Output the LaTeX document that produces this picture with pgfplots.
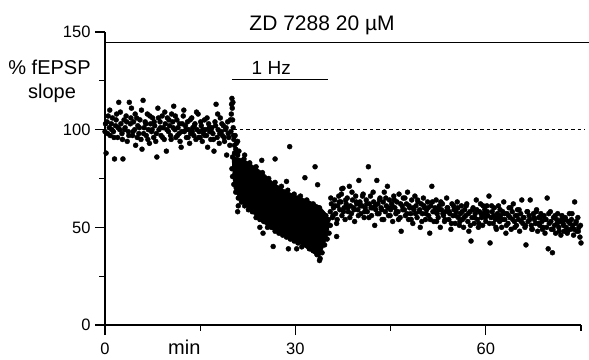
\documentclass[border=0pt]{standalone}
\usepackage{fontspec}
\setmainfont{Liberation Sans}
\usepackage{pgfplots}
\pgfplotsset{compat=1.18}
\usepackage{pgfplotstable}

\pgfplotstableread{
x y
0.0 99
0.17 88
0.33 104
0.5 107
0.67 101
0.83 97
1.0 103
1.17 106
1.33 99
1.5 85
1.67 102
1.83 108
2.0 96
2.17 114
2.33 100
2.5 103
2.67 98
2.83 85
3.0 105
3.17 101
3.33 107
3.5 94
3.67 99
3.83 114
4.0 103
4.17 111
4.33 97
4.5 104
4.67 100
4.83 92
5.0 106
5.17 102
5.33 98
5.5 105
5.67 95
5.83 90
6.0 115
6.17 101
6.33 104
6.5 97
6.67 108
6.83 100
7.0 93
7.17 103
7.33 99
7.5 106
7.67 96
7.83 102
8.0 94
8.17 86
8.33 111
8.5 100
8.67 104
8.83 97
9.0 107
9.17 101
9.33 95
9.5 103
9.67 89
9.83 106
10.0 99
10.17 102
10.33 97
10.5 108
10.67 104
10.83 112
11.0 100
11.17 96
11.33 105
11.5 101
11.67 98
11.83 94
12.0 91
12.17 103
12.33 107
12.5 99
12.67 102
12.83 96
13.0 104
13.17 100
13.33 93
13.5 98
13.67 106
13.83 101
14.0 97
14.17 103
14.33 95
14.5 100
14.67 108
14.83 99
15.0 96
15.17 102
15.33 94
15.5 98
15.67 105
15.83 100
16.0 97
16.17 91
16.33 103
16.5 99
16.67 95
16.83 101
17.0 98
17.17 89
17.33 104
17.5 113
17.67 96
17.83 100
18.0 93
18.17 106
18.33 99
18.5 97
18.67 102
18.83 94
19.0 100
19.17 87
19.33 104
19.5 96
19.67 92
19.83 99
19.9 108
19.95 113
20.0 116
20.05 111
20.1 105
20.15 114
20.2 101
20.25 97
20.3 95
20.4 92
20.5 97
20.6 90
20.7 93
20.8 88
20.9 94
0.08 103
0.42 98
0.75 110
1.08 100
1.42 96
1.75 105
2.08 101
2.42 109
2.75 95
3.08 100
3.42 104
3.75 97
4.08 106
4.42 99
4.75 108
5.08 96
5.42 101
5.75 110
6.08 98
6.42 103
6.75 95
7.08 107
7.42 100
7.75 104
8.08 98
8.42 106
8.75 101
9.08 96
9.42 109
9.75 100
10.08 105
10.42 95
10.75 101
11.08 107
11.42 97
11.75 103
12.08 99
12.42 110
12.75 100
13.08 96
13.42 105
13.75 99
14.08 102
14.42 109
14.75 96
15.08 104
15.42 100
15.75 97
16.08 106
16.42 101
16.75 99
17.08 95
17.42 102
17.75 108
18.08 98
18.42 103
18.75 96
19.08 101
19.42 98
19.75 105
}\baseline

\pgfplotstableread{
x y
20.1 86
20.5 84
20.9 87
21.4 83
21.9 85
22.3 81
22.8 83
23.3 80
23.8 81
24.3 77
24.8 78
25.3 74
25.8 75
26.3 72
26.8 73
27.3 70
27.8 71
28.3 68
28.8 69
29.3 66
29.8 67
30.3 65
30.8 66
31.3 63
31.8 64
32.3 61
32.8 62
33.3 60
33.8 60
34.3 57
34.8 56
35.2 54
35.5 51
35.3 47
35.0 44
34.6 41
34.2 37
33.9 34
33.4 36
32.8 38
32.2 39
31.6 41
31.0 40
30.4 42
29.8 43
29.2 44
28.6 45
28.0 46
27.4 47
26.8 48
26.2 50
25.6 50
25.0 53
24.4 54
23.8 55
23.2 58
22.6 59
22.0 61
21.5 63
21.0 65
20.6 68
20.3 72
20.1 76
20.0 80
20.4 88
21.1 89
22.0 87
29.1 91.3
24.7 84.3
26.8 85
33.1 81
31.5 75.4
33.5 71.8
28.6 73.5
37.3 69.7
20.9 58
21.0 61
24.4 50
24.9 47
26.5 40.2
28.9 39
30.2 39
36.5 45.3
33.8 33
}\onehz

\pgfplotstableread{
x y
35.5 58
35.67 62
35.83 55
36.0 60
36.17 64
36.33 57
36.5 52
36.67 61
36.83 66
37.0 59
37.17 63
37.33 56
37.5 70
37.67 60
37.83 54
38.0 62
38.17 65
38.33 58
38.5 71
38.67 61
38.83 57
39.0 64
39.17 60
39.33 53
39.5 66
39.67 62
39.83 59
40.0 74
40.17 63
40.33 57
40.5 61
40.67 67
40.83 55
41.0 60
41.17 64
41.33 58
41.5 81
41.67 62
41.83 66
42.0 56
42.17 60
42.33 63
42.5 51
42.67 59
42.83 74
43.0 62
43.17 57
43.33 65
43.5 60
43.67 54
43.83 63
44.0 68
44.17 58
44.33 61
44.5 71
44.67 56
44.83 64
45.0 59
45.17 62
45.33 53
45.5 66
45.67 60
45.83 57
46.0 63
46.17 58
46.33 67
46.5 55
46.67 48
46.83 61
47.0 65
47.17 59
47.33 56
47.5 62
47.67 68
47.83 54
48.0 60
48.17 57
48.33 64
48.5 52
48.67 59
48.83 66
49.0 61
49.17 55
49.33 63
49.5 58
49.67 50
49.83 62
50.0 57
50.17 65
50.33 60
50.5 54
50.67 59
50.83 63
51.0 56
51.17 47
51.33 61
51.5 71
51.67 58
51.83 53
52.0 60
52.17 64
52.33 57
52.5 55
52.67 61
52.83 50
53.0 59
53.17 62
53.33 56
53.5 53
53.67 58
53.83 65
54.0 60
54.17 54
54.33 57
54.5 49
54.67 62
54.83 56
55.0 59
55.17 52
55.33 58
55.5 63
55.67 55
55.83 51
56.0 57
56.17 61
56.33 54
56.5 50
56.67 59
56.83 56
57.0 62
57.17 53
57.33 48
57.5 58
57.67 43
57.83 55
58.0 60
58.17 52
58.33 57
58.5 64
58.67 54
58.83 50
59.0 58
59.17 62
59.33 55
59.5 51
59.67 57
59.83 59
60.0 53
60.17 61
60.33 56
60.5 66
60.67 42
60.83 55
61.0 58
61.17 52
61.33 60
61.5 54
61.67 49
61.83 57
62.0 61
62.17 53
62.33 56
62.5 50
62.67 58
62.83 63
63.0 54
63.17 47
63.33 57
63.5 52
63.67 60
63.83 55
64.0 49
64.17 58
64.33 62
64.5 53
64.67 56
64.83 51
65.0 59
65.17 54
65.33 48
65.5 57
65.67 64
65.83 52
66.0 55
66.17 50
66.33 41
66.5 58
66.67 53
66.83 56
67.0 64
67.17 51
67.33 49
67.5 57
67.67 54
67.83 52
68.0 59
68.17 48
68.33 55
68.5 51
68.67 57
68.83 53
69.0 50
69.17 56
69.33 47
69.5 54
69.67 65
69.83 39
70.0 52
70.17 58
70.33 49
70.5 37
70.67 55
70.83 51
71.0 47
71.17 54
71.33 57
71.5 50
71.67 53
71.83 46
72.0 56
72.17 52
72.33 48
72.5 55
72.67 50
72.83 47
73.0 53
73.17 57
73.33 49
73.5 54
73.67 51
73.83 46
74.0 63
74.17 52
74.33 48
74.5 55
74.67 50
74.83 45
75.0 42
35.58 65
35.92 56
36.25 61
36.58 54
36.92 63
37.25 67
37.58 58
37.92 64
38.25 60
38.58 55
38.92 68
39.25 59
39.58 63
39.92 56
40.25 61
40.58 66
40.92 58
41.25 62
41.58 55
41.92 60
42.25 68
42.58 61
42.92 57
43.25 64
43.58 59
43.92 54
44.25 65
44.58 60
44.92 56
45.25 61
45.58 64
45.92 58
46.25 54
46.58 62
46.92 59
47.25 65
47.58 57
47.92 61
48.25 54
48.58 60
48.92 57
49.25 64
49.58 59
49.92 53
50.25 61
50.58 57
50.92 60
51.25 54
51.58 63
51.92 58
52.25 53
52.58 59
52.92 63
53.25 57
53.58 54
53.92 60
54.25 58
54.58 52
54.92 61
55.25 56
55.58 60
55.92 53
56.25 58
56.58 55
56.92 61
57.25 57
57.58 51
57.92 59
58.25 55
58.58 59
58.92 52
59.25 57
59.58 61
59.92 55
60.25 58
60.58 52
60.92 61
61.25 56
61.58 50
61.92 55
62.25 59
62.58 54
62.92 57
63.25 51
63.58 56
63.92 60
64.25 54
64.58 50
64.92 56
65.25 59
65.58 53
65.92 55
66.25 51
66.58 58
66.92 54
67.25 49
67.58 55
67.92 58
68.25 52
68.58 55
68.92 49
69.25 54
69.58 50
69.92 57
70.25 53
70.58 49
70.92 56
71.25 52
71.58 48
71.92 54
72.25 51
72.58 54
72.92 48
73.25 52
73.58 57
73.92 49
74.25 53
74.58 48
74.92 51
}\post

\begin{document}
\begin{tikzpicture}
\path[use as bounding box] (0,0) rectangle (589bp,360bp);
\begin{axis}[
  at={(105bp,35bp)}, anchor=south west,
  scale only axis, width=476bp, height=293bp,
  xmin=0, xmax=75, ymin=0, ymax=150,
  axis x line*=bottom, axis y line*=left,
  axis line style={-, line width=1.1pt},
  xtick={0,30,60}, minor xtick={15,45,75},
  ytick={0,50,100,150}, minor ytick={25,75,125},
  tick align=outside,
  major tick length=10bp, minor tick length=5.5bp,
  every tick/.style={line width=1.1pt, black},
  /pgf/number format/assume math mode=true,
  ticklabel style={font=\fontsize{16.5bp}{19bp}\selectfont},
  yticklabel style={xshift=-1bp},
  xticklabel style={yshift=-4bp},
  clip=false,
]
\addplot[fill=black, draw=black, line width=0.5pt] coordinates {
(19.95,86.5) (21.8,85) (23.4,81.5) (24.9,78) (26.5,73) (28.1,69.5) (30.2,66)
(31.7,64.3) (33.8,61) (35.0,56.5) (35.4,53) (35.2,47) (34.5,40.5) (33.8,34.5)
(32.2,38.2) (30.7,41.6) (28.6,45) (26.5,48.5) (24.4,53.5) (22.9,58.5)
(21.3,63.6) (20.3,70) (20.1,78)
};
\addplot[only marks, mark=*, mark size=2.5bp, black] table[x=x,y=y] {\baseline};
\addplot[only marks, mark=*, mark size=2.5bp, black] table[x=x,y=y] {\onehz};
\addplot[only marks, mark=*, mark size=2.5bp, black] table[x=x,y=y] {\post};
\addplot[black, line width=1.4bp] coordinates {(0,144.6) (76.2,144.6)};
\addplot[black, line width=1.4bp] coordinates {(20,125.6) (35.1,125.6)};
\addplot[black, line width=1bp, dash pattern=on 3.5bp off 3bp] coordinates {(20.2,100) (75.6,100)};
\node[anchor=base, font=\fontsize{21bp}{25bp}\selectfont] at (axis cs:34.2,151) {ZD 7288 20 µM};
\node[anchor=base, font=\fontsize{19bp}{23bp}\selectfont] at (axis cs:26.2,128) {1 Hz};
\node[anchor=base, font=\fontsize{20bp}{24bp}\selectfont] at (axis cs:-8.74,128) {\% fEPSP};
\node[anchor=base, font=\fontsize{20bp}{24bp}\selectfont] at (axis cs:-8.35,115.7) {slope};
\node[anchor=base, font=\fontsize{20bp}{24bp}\selectfont] at (axis cs:12.5,-15.3) {min};
\end{axis}
\end{tikzpicture}
\end{document}
